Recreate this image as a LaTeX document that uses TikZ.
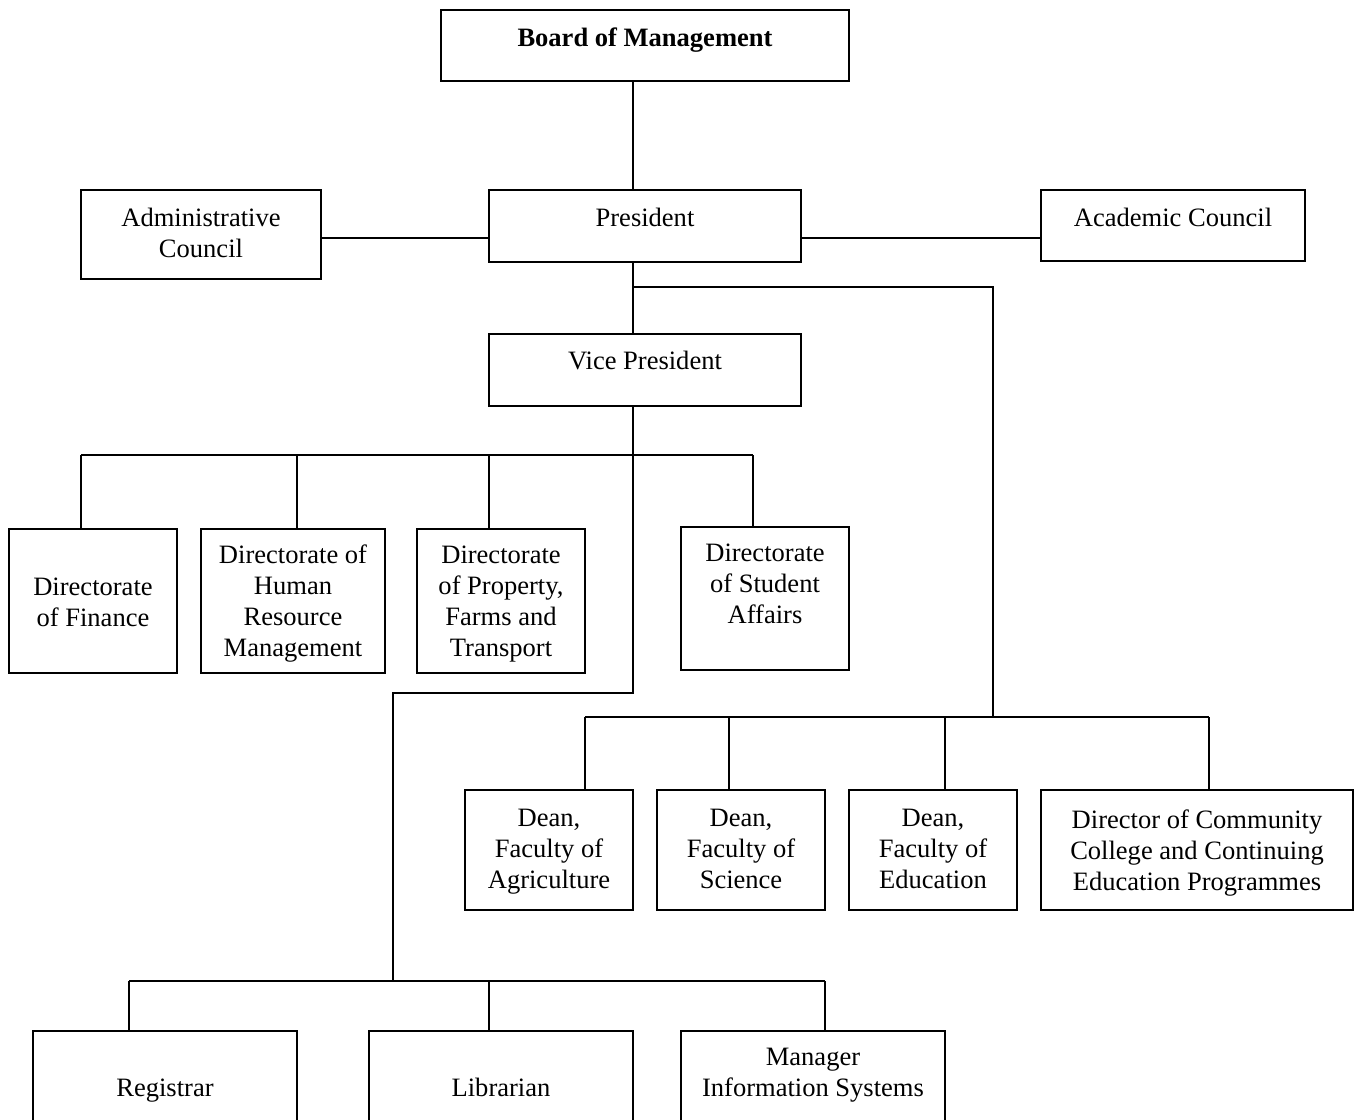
\documentclass[tikz,border=0pt]{standalone}
\usepackage{fontspec}
\setmainfont{Liberation Serif}
\usetikzlibrary{fit}
\tikzset{
  box/.style={draw, line width=1.2pt, inner sep=0pt, rectangle},
  lbl/.style={align=center, inner sep=0pt, font=\fontsize{19.9}{23.3}\selectfont},
  conn/.style={line width=1.2pt},
}
\newcommand{\bx}[7]{%
  \node[box, fit={(#2,#3) (#4,#5)}] (#1) {};
  \node[lbl] (#1t) at ({(#2+#4)/2},{#6+2.6}) {\strut #7\strut};
}
\begin{document}
\begin{tikzpicture}[x=0.75pt,y=-0.75pt]
\useasboundingbox (0,0) rectangle (1357,1120);
\clip (0,0) rectangle (1357,1120);
\bx{board}{441}{10}{849}{81}{38}{\textbf{Board of Management}}
\bx{pres}{489}{190}{801}{262}{218}{President}
\bx{admin}{81}{190}{321}{279}{233}{Administrative\\Council}
\bx{acad}{1041}{190}{1305}{261}{218}{Academic Council}
\bx{vp}{489}{334}{801}{406}{361}{Vice President}
\bx{fin}{9}{529}{177}{673}{602}{Directorate\\of Finance}
\bx{hrm}{201}{529}{385}{673}{601}{Directorate of\\Human\\Resource\\Management}
\bx{prop}{417}{529}{585}{673}{601}{Directorate\\of Property,\\Farms and\\Transport}
\bx{stud}{681}{527}{849}{670}{584}{Directorate\\of Student\\Affairs}
\bx{agri}{465}{790}{633}{910}{848.5}{Dean,\\Faculty of\\Agriculture}
\bx{sci}{657}{790}{825}{910}{848.5}{Dean,\\Faculty of\\Science}
\bx{edu}{849}{790}{1017}{910}{848.5}{Dean,\\Faculty of\\Education}
\bx{comm}{1041}{790}{1353}{910}{851}{Director of Community\\College and Continuing\\Education Programmes}
\bx{reg}{33}{1031}{297}{1130}{1088}{Registrar}
\bx{lib}{369}{1031}{633}{1130}{1088}{Librarian}
\bx{mis}{681}{1031}{945}{1130}{1072.5}{Manager\\Information Systems}
% coordinates
\coordinate (cx) at (633,0);
\coordinate (h238) at (0,238);
\coordinate (p1) at (633,287);
\coordinate (p2) at (993,287);
\coordinate (p3) at (993,717);
\coordinate (v1) at (633,693);
\coordinate (v2) at (393,693);
\coordinate (v3) at (393,981);
\coordinate (a1) at (81,455);
\coordinate (a2) at (297,455);
\coordinate (a3) at (489,455);
\coordinate (a4) at (753,455);
\coordinate (f1) at (585,717);
\coordinate (f2) at (729,717);
\coordinate (f3) at (945,717);
\coordinate (f4) at (1209,717);
\coordinate (r1) at (129,981);
\coordinate (r2) at (489,981);
\coordinate (r3) at (825,981);
% connectors
\draw[conn] (board.south -| cx) -- (pres.north -| cx);
\draw[conn] (admin.east |- h238) -- (pres.west |- h238);
\draw[conn] (pres.east |- h238) -- (acad.west |- h238);
\draw[conn] (pres.south -| cx) -- (vp.north -| cx);
\draw[conn] (p1) -- (p2) -- (p3);
\draw[conn] (vp.south -| cx) -- (v1) -- (v2) -- (v3);
\draw[conn] (a1) -- (a4);
\draw[conn] (a1) -- (a1 |- fin.north);
\draw[conn] (a2) -- (a2 |- hrm.north);
\draw[conn] (a3) -- (a3 |- prop.north);
\draw[conn] (a4) -- (a4 |- stud.north);
\draw[conn] (f1) -- (f4);
\draw[conn] (f1) -- (f1 |- agri.north);
\draw[conn] (f2) -- (f2 |- sci.north);
\draw[conn] (f3) -- (f3 |- edu.north);
\draw[conn] (f4) -- (f4 |- comm.north);
\draw[conn] (r1) -- (r3);
\draw[conn] (r1) -- (r1 |- reg.north);
\draw[conn] (r2) -- (r2 |- lib.north);
\draw[conn] (r3) -- (r3 |- mis.north);
\end{tikzpicture}
\end{document}
